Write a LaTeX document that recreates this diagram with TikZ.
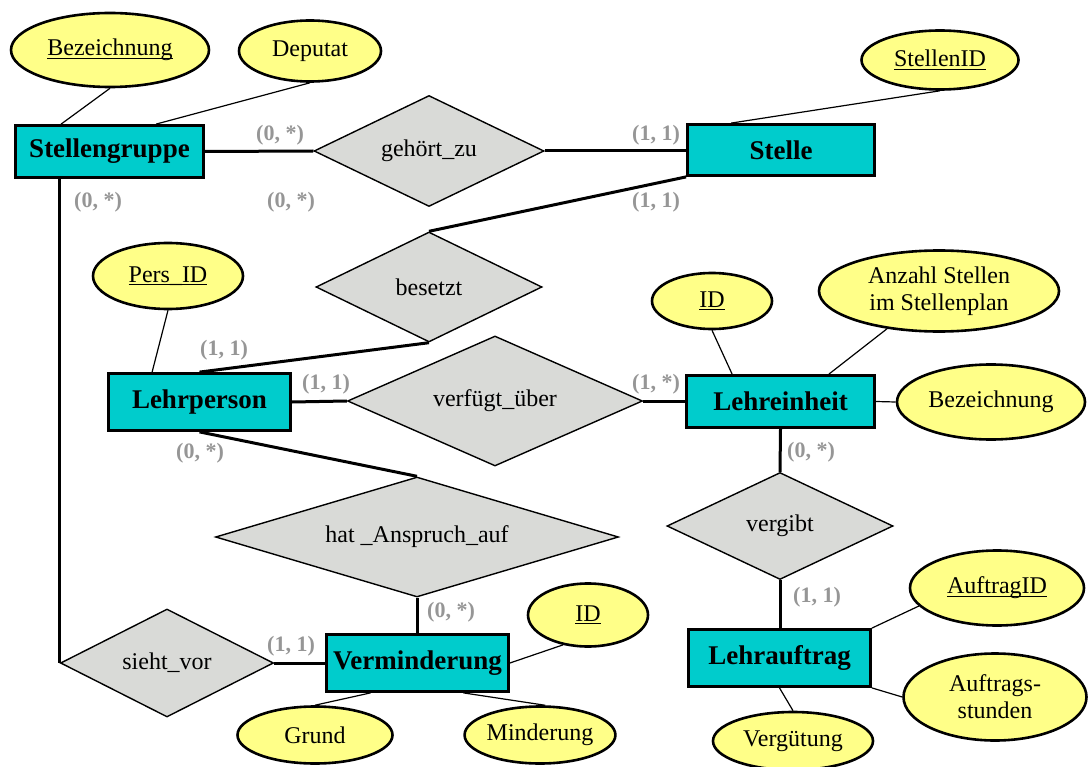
\documentclass[tikz,border=0pt]{standalone}
\usepackage{fontspec}
\setmainfont{Liberation Serif}
\usetikzlibrary{shapes.geometric,calc}
\definecolor{entfill}{RGB}{0,204,204}
\definecolor{attrfill}{RGB}{255,255,136}
\definecolor{relfill}{RGB}{217,218,215}
\definecolor{cardgray}{RGB}{150,150,150}
% key attributes: underline at a fixed depth below the baseline
\newcommand\keyattr[1]{\setbox0\hbox{#1}\rlap{\rule[-3pt]{\wd0}{1.2pt}}\box0}
\begin{document}
\begin{tikzpicture}[x=1pt,y=-1pt,
  entity/.style={draw, line width=2.8pt, fill=entfill, inner sep=0pt,
    font=\fontsize{27}{30}\selectfont\bfseries},
  attr/.style={ellipse, draw, line width=2.6pt, fill=attrfill, inner sep=0pt,
    align=center, font=\fontsize{24}{27}\selectfont},
  rel/.style={diamond, aspect=2, draw, line width=1.4pt, fill=relfill, inner sep=0pt,
    font=\fontsize{24}{27}\selectfont},
  card/.style={text=cardgray, inner sep=0pt, font=\fontsize{22}{24}\selectfont\bfseries},
  strong/.style={line width=3pt},
  slim/.style={line width=1.2pt},
]
\useasboundingbox[fill=white] (0,0) rectangle (1089,767);

% entities
\node[entity, minimum width=188pt, minimum height=52pt] (sg) at (109.5,151.5) {Stellengruppe};
\node[entity, minimum width=187pt, minimum height=51pt] (st) at (781,150) {Stelle};
\node[entity, minimum width=182pt, minimum height=57pt] (lp) at (199.5,402) {Lehrperson};
\node[entity, minimum width=188pt, minimum height=52pt] (le) at (780.5,401.5) {Lehreinheit};
\node[entity, minimum width=182pt, minimum height=57pt] (la) at (779.5,658) {Lehrauftrag};
\node[entity, minimum width=182pt, minimum height=57pt] (vm) at (417.5,663) {Verminderung};

% relationships
\node[rel, minimum width=230pt, minimum height=111pt] (gz) at (429,151) {gehört\_zu};
\node[rel, minimum width=226pt, minimum height=110pt] (bs) at (429,287) {besetzt};
\node[rel, aspect=2.3, minimum width=295pt, minimum height=130pt] (vu) at (495,401) {verfügt\_über};
\node[rel, minimum width=226pt, minimum height=107pt] (vg) at (780,526) {vergibt};
\node[rel, aspect=3.4, minimum width=403pt, minimum height=120pt] (ha) at (417,537) {hat \_Anspruch\_auf};
\node[rel, minimum width=213pt, minimum height=108pt] (sv) at (167,663) {sieht\_vor};

% attributes
\node[attr, minimum width=198pt, minimum height=74pt] (a1) at (110,50) {\keyattr{Bezeichnung}};
\node[attr, minimum width=142pt, minimum height=61pt] (a2) at (310,51) {Deputat};
\node[attr, minimum width=157pt, minimum height=59pt] (a3) at (940,60) {\keyattr{StellenID}};
\node[attr, minimum width=150pt, minimum height=66pt] (a4) at (168,276) {\keyattr{Pers\_ID}};
\node[attr, minimum width=120pt, minimum height=56pt] (a5) at (712,301) {\keyattr{ID}};
\node[attr, minimum width=240pt, minimum height=81pt] (a6) at (939,291) {Anzahl Stellen\\im Stellenplan};
\node[attr, minimum width=188pt, minimum height=75pt] (a7) at (991,402) {Bezeichnung};
\node[attr, minimum width=174pt, minimum height=75pt] (a8) at (997,588) {\keyattr{AuftragID}};
\node[attr, minimum width=183pt, minimum height=87pt] (a9) at (995,697) {Auftrags-\\stunden};
\node[attr, minimum width=160pt, minimum height=58pt] (a10) at (793,741) {Vergütung};
\node[attr, minimum width=120pt, minimum height=63pt] (a11) at (588,615) {\keyattr{ID}};
\node[attr, minimum width=155pt, minimum height=57pt] (a12) at (315,735) {Grund};
\node[attr, minimum width=145pt, minimum height=57pt] (a13) at (540,735) {Minderung};

% relationship connectors
\draw[strong] (sg.east) -- (gz.west);
\draw[strong] (gz.east) -- (st.west |- gz.east);
\draw[strong] (st.south west) -- (bs.north);
\draw[strong] (bs.south) -- (lp.north);
\draw[strong] (lp.east) -- (vu.west);
\draw[strong] (vu.east) -- (le.west |- vu.east);
\draw[strong] (le.south) -- (vg.north);
\draw[strong] (vg.south) -- (la.north -| vg.south);
\draw[strong] (lp.south) -- (ha.north);
\draw[strong] (ha.south) -- (vm.north -| ha.south);
\draw[strong] (sv.west |- sg.south) -- (sv.west);
\draw[strong] (sv.east) -- (vm.west);

% attribute connectors
\draw[slim] (a1.south) -- ([xshift=47pt]sg.north west);
\draw[slim] (a2.south) -- ([xshift=142pt]sg.north west);
\draw[slim] (a3.south) -- ([xshift=45pt]st.north west);
\draw[slim] (a4.south) -- ([xshift=45pt]lp.north west);
\draw[slim] (a5.south) -- ([xshift=47pt]le.north west);
\draw[slim] (a6.216) -- ([xshift=-47pt]le.north east);
\draw[slim] (le.east) -- (a7.west);
\draw[slim] (la.north east) -- (a8.193);
\draw[slim] (la.south east) -- (a9.west);
\draw[slim] (la.south) -- (a10.north);
\draw[slim] (vm.east) -- (a11.230);
\draw[slim] ([xshift=-47pt]vm.south) -- (a12.north);
\draw[slim] ([xshift=46pt]vm.south) -- (a13.80);

% cardinalities
\node[card] (c1) at (280,135) {(0, *)};
\node[card] (c2) at (98,202) {(0, *)};
\node[card] (c3) at (291,202) {(0, *)};
\node[card] (c4) at (656,135) {(1, 1)};
\node[card] (c5) at (656,202) {(1, 1)};
\node[card] (c6) at (224,350) {(1, 1)};
\node[card] (c7) at (326,384) {(1, 1)};
\node[card] (c8) at (656,384) {(1, *)};
\node[card] (c9) at (200,453) {(0, *)};
\node[card] (c10) at (811,452) {(0, *)};
\node[card] (c11) at (817,597) {(1, 1)};
\node[card] (c12) at (451,612) {(0, *)};
\node[card] (c13) at (291,646) {(1, 1)};
\end{tikzpicture}
\end{document}
